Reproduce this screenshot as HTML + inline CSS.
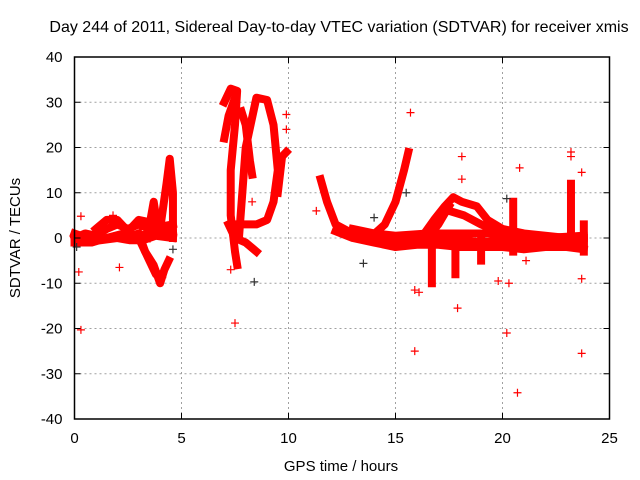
<!DOCTYPE html>
<html><head><meta charset="utf-8"><style>
body{margin:0;background:#fff}
svg{display:block;font-family:"Liberation Sans",sans-serif}
</style></head><body>
<svg id="chart" width="640" height="480" viewBox="0 0 640 480">
<rect width="640" height="480" fill="#fff"/>
<text x="339" y="32" font-size="16" text-anchor="middle">Day 244 of 2011, Sidereal Day-to-day VTEC variation (SDTVAR) for receiver xmis</text>
<g id="grid"></g>
<g id="bands"></g>
<g id="points"></g>
<g id="axes"></g>
<text transform="translate(20,238) rotate(-90)" font-size="15" text-anchor="middle">SDTVAR / TECUs</text>
<text x="341" y="471" font-size="15" text-anchor="middle">GPS time / hours</text>
</svg>
<script>
const xTicks=[0,5,10,15,20,25];
const yTicks=[-40,-30,-20,-10,0,10,20,30,40];
// dense band traces: [hour, value] vertices
const bandA=[[0,0],[0.5,1],[1,0.5],[1.5,2],[2,3],[2.5,2],[3,3],[3.5,2],[4,2.5],[4.6,3]];
const bandA2=[[0,1],[0.6,0],[1.2,-0.5],[2,0],[2.6,-0.5],[3.2,-0.5],[3.8,0.5],[4.6,0]];
const bandA3=[[0,-1],[0.8,-1],[1.5,0],[2.3,1],[3,0.5],[3.6,1],[4.6,1.5]];
const bandB=[[1,2],[1.5,4],[2,4],[2.5,1.5],[3,4],[3.5,3.5]];
const bandC=[[3,1],[3.3,-3],[3.7,-6],[4,-10],[4.2,-7],[4.4,-5]];
const bandC2=[[3.1,-1],[3.5,-5],[3.8,-8],[4.1,-8]];
const bandD=[[4.0,2],[4.3,12],[4.45,17.5],[4.6,10],[4.6,0]];
const bandE=[[3.4,0],[3.7,8],[3.9,2]];
const bandF=[[7.0,30],[7.3,33],[7.6,32.5],[7.5,25],[7.3,15],[7.3,5],[7.5,-3],[7.6,-6]];
const bandG=[[7.0,22],[7.2,27],[7.5,31]];
const bandH=[[7.8,28],[8.0,25],[8.2,17],[8.3,14]];
const bandI=[[7.7,1],[8.0,20],[8.5,31],[9.0,30.5],[9.3,25],[9.5,15],[9.3,8],[9.0,4],[8.5,3],[7.6,3]];
const bandJ=[[9.5,10],[9.7,18],[9.9,19]];
const bandK=[[7.2,3],[7.5,0],[8.0,-1],[8.5,-3]];
const bandL=[[11.5,13],[11.8,8],[12.2,3],[13,1],[14,0],[15,-1],[16,0],[17,0],[18,-0.5],[19,-1],[20,-0.5],[21,-1],[22,-1],[23,-1],[23.8,-1]];
const bandL2=[[12.2,1.5],[13,0],[14,-1],[15,-2],[16,-1.5],[17,-1.5],[18,-2],[19,-2],[20,-2],[21,-2.5],[22,-2],[23,-2],[23.8,-2.5]];
const bandL3=[[13,2],[14,1],[15,0.5],[16.5,1],[18,1],[19.5,1],[21,0],[22,0],[23.8,0.5]];
const bandM=[[13.8,0],[14.5,3],[15,8],[15.4,15],[15.6,19]];
const bandN=[[16.2,0],[16.8,4],[17.3,7],[17.7,9],[18.1,8],[18.8,7],[19.3,4],[20,2],[21,1],[22,0.5],[23,0],[23.8,0]];
const bandN2=[[17.5,6],[18.2,5],[19,3],[20,1],[21,0]];
const bandO=[[16.3,-1],[17,3],[17.5,7]];
const bandS1=[[16.7,-10],[16.7,0]];
const bandS2=[[17.8,-8],[17.8,0]];
const bandS3=[[19.0,-5],[19.0,0]];
const bandS4=[[20.5,8],[20.5,-3]];
const bandS5=[[23.2,12],[23.2,-2]];
const bandS6=[[23.8,-3],[23.8,3]];
const bands=[bandA,bandA2,bandA3,bandB,bandC,bandC2,bandD,bandE,bandF,bandG,bandH,bandI,bandJ,bandK,bandL,bandL2,bandL3,bandM,bandN,bandN2,bandO,bandS1,bandS2,bandS3,bandS4,bandS5,bandS6];
const redPts=[[0.3,-20.3],[0.2,-7.5],[0.3,4.8],[2.1,-6.5],[7.5,-18.8],[9.9,27.3],[9.9,24],[15.7,27.7],[15.9,-25],[15.9,-11.5],[16.1,-12],[17.9,-15.5],[18.1,18],[18.1,13],[20.2,-21],[20.7,-34.2],[20.8,15.5],[23.2,19],[23.2,18],[23.7,14.5],[23.7,-25.5],[19.8,-9.5],[20.3,-10],[21.1,-5],[23.7,-9],[1.8,5],[8.3,8],[7.3,-7],[11.3,6],[14.5,-1]];
const blackPts=[[8.4,-9.7],[20.2,8.7],[13.5,-5.6],[14.0,4.5],[15.5,10],[4.6,-2.5],[0.1,-2]];
const NS="http://www.w3.org/2000/svg";
const X0=74.5,X1=609.5,Y0=419,Y1=57;
function sx(h){return X0+(h-0)/25*(X1-X0);}
function sy(v){return Y0-(v+40)/80*(Y0-Y1);}
function el(t,a,p){const e=document.createElementNS(NS,t);for(const k in a)e.setAttribute(k,a[k]);p.appendChild(e);return e;}
const grid=document.getElementById('grid'),axes=document.getElementById('axes');
xTicks.forEach(t=>{
 if(t>0&&t<25){const g=el('line',{x1:sx(t),x2:sx(t),y1:Y1,y2:Y0,stroke:'#a0a0a0','stroke-dasharray':'2,3'},grid);
 }
 const tk=el('path',{d:`M${sx(t)},${Y0}v-6M${sx(t)},${Y1}v6`,stroke:'#000'},axes);
 
 const lb=el('text',{x:sx(t),y:Y0+24,'font-size':15,'text-anchor':'middle'},axes);lb.textContent=t;
 
});
yTicks.forEach(t=>{
 if(t>-40&&t<40){const g=el('line',{x1:X0,x2:X1,y1:sy(t),y2:sy(t),stroke:'#a0a0a0','stroke-dasharray':'2,3'},grid);
 }
 const tk=el('path',{d:`M${X0},${sy(t)}h6M${X1},${sy(t)}h-6`,stroke:'#000'},axes);
 
 const lb=el('text',{x:X0-12,y:sy(t)+5,'font-size':15,'text-anchor':'end'},axes);lb.textContent=t;
 
});
const fr=el('rect',{x:X0,y:Y1,width:X1-X0,height:Y0-Y1,fill:'none',stroke:'#000','stroke-width':1.5},axes);

const bg=document.getElementById('bands');
bands.forEach(b=>{
 const p=el('polyline',{points:b.map(d=>sx(d[0])+','+sy(d[1])).join(' '),fill:'none',stroke:'#f00','stroke-width':8,'stroke-linejoin':'round','stroke-linecap':'square'},bg);
 
});
const pg=document.getElementById('points');
function plus(d,c){const x=sx(d[0]),y=sy(d[1]);
 const p=el('path',{d:`M${x-4},${y}h8M${x},${y-4}v8`,stroke:c,'stroke-width':1.2},pg);
 }
redPts.forEach(d=>plus(d,'#f00'));
blackPts.forEach(d=>plus(d,'#333'));
</script>
</body></html>
